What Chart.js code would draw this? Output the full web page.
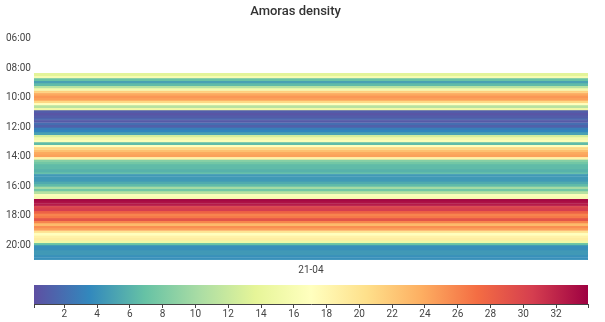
<!DOCTYPE html>
<html>
<head>
<meta charset="utf-8">
<script src="https://cdn.jsdelivr.net/npm/chart.js@4/dist/chart.umd.min.js"></script>
<style>
  body { margin: 0; background: #fff; }
  #wrap { position: relative; width: 605px; height: 322px; }
  #heat { position: absolute; left: 0; top: 0; }
  #bar { position: absolute; left: 0; top: 280px; }
</style>
</head>
<body>
<div id="wrap">
  <canvas id="heat" width="605" height="280"></canvas>
  <canvas id="bar" width="605" height="40"></canvas>
</div>
<script>
// one column (day), 10 minute slots from 08:20 to 21:00
const days = ["21-04"];
const firstSlot = 8 + 20 / 60;   // hours
const slotLen = 10 / 60;         // hours
const density = [
  13.5, 16, 7, 5, 6.5, 11, 15.5, 21.5, 24, 25, 24.5, 21, 17, 11, 15,
  1, 0.5, 1, 1.5, 0.8, 2, 1.2,
  3, 3.5, 5, 12.5, 15.5, 16.5, 6.5, 17, 21, 22.5, 24, 24.5, 18.5, 8.5, 7.5, 6.5, 6.5, 6, 6.5,
  4.5, 4.5, 4.5, 5.5, 6.5, 10, 7.5, 11, 16.5, 16,
  33.5, 33, 32.5, 30, 30.5, 28, 26, 26.5, 29, 26, 23, 25.5, 24.5, 20, 17, 18.5, 19, 15, 7,
  4, 4, 4.5, 4.5, 4, 4
];
const hourTicks = [6, 8, 10, 12, 14, 16, 18, 20];
const barTicks = [2, 4, 6, 8, 10, 12, 14, 16, 18, 20, 22, 24, 26, 28, 30, 32];

// colour scale domain
const cMin = 0.15, cMax = 33.95;
const spectral = ["#5e4fa2", "#3288bd", "#66c2a5", "#abdda4", "#e6f598", "#ffffbf",
                  "#fee08b", "#fdae61", "#f46d43", "#d53e4f", "#9e0142"];

function hexToRgb(h) {
  return [parseInt(h.slice(1, 3), 16), parseInt(h.slice(3, 5), 16), parseInt(h.slice(5, 7), 16)];
}
function colorFor(v) {
  let t = (v - cMin) / (cMax - cMin);
  t = Math.max(0, Math.min(1, t));
  const p = t * (spectral.length - 1);
  const i = Math.min(Math.floor(p), spectral.length - 2);
  const f = p - i;
  const a = hexToRgb(spectral[i]), b = hexToRgb(spectral[i + 1]);
  const c = a.map((x, k) => Math.round(x + (b[k] - x) * f));
  return `rgb(${c[0]},${c[1]},${c[2]})`;
}

const pad2 = n => String(n).padStart(2, "0");
const font = { family: "Roboto, 'Liberation Sans', sans-serif", size: 10 };

// one floating bar per slot
const datasets = density.map((v, i) => {
  const start = firstSlot + i * slotLen;
  return {
    data: [[start, start + slotLen]],
    backgroundColor: colorFor(v),
    borderColor: colorFor(v),
    borderWidth: 0.5,
    borderSkipped: false
  };
});

new Chart(document.getElementById("heat"), {
  type: "bar",
  data: { labels: days, datasets: datasets },
  options: {
    responsive: false,
    animation: false,
    devicePixelRatio: 1,
    layout: { padding: { left: 3, right: 17, top: 0, bottom: 0 } },
    datasets: { bar: { grouped: false, barPercentage: 1, categoryPercentage: 1 } },
    plugins: {
      legend: { display: false },
      tooltip: { enabled: false },
      title: {
        display: true,
        text: "Amoras density",
        color: "#333",
        font: { family: "Roboto, 'Liberation Sans', sans-serif", size: 13, weight: "500" },
        padding: { top: 4, bottom: 12 }
      }
    },
    scales: {
      x: {
        grid: { display: false, drawTicks: false },
        border: { display: false },
        ticks: { color: "#444", font: font, padding: 4 }
      },
      y: {
        type: "linear",
        reverse: true,
        min: 5.5,
        max: 21,
        grid: { display: false, drawTicks: false },
        border: { display: false },
        afterBuildTicks: s => { s.ticks = hourTicks.map(h => ({ value: h })); },
        ticks: {
          color: "#444",
          font: font,
          padding: 3,
          callback: v => pad2(v) + ":00"
        }
      }
    }
  }
});

// colour bar under the heatmap
const colorbarFill = {
  id: "colorbarFill",
  beforeDraw(chart) {
    const { ctx, chartArea: a, scales: { x } } = chart;
    const g = ctx.createLinearGradient(x.getPixelForValue(cMin), 0, x.getPixelForValue(cMax), 0);
    spectral.forEach((c, i) => g.addColorStop(i / (spectral.length - 1), c));
    ctx.save();
    ctx.fillStyle = g;
    ctx.fillRect(a.left, a.top, a.width, a.height);
    ctx.restore();
  }
};

new Chart(document.getElementById("bar"), {
  type: "scatter",
  data: { datasets: [{ data: [] }] },
  plugins: [colorbarFill],
  options: {
    responsive: false,
    animation: false,
    devicePixelRatio: 1,
    layout: { padding: { left: 34, right: 17, top: 5, bottom: 0 } },
    plugins: { legend: { display: false }, tooltip: { enabled: false } },
    scales: {
      x: {
        type: "linear",
        min: cMin,
        max: cMax,
        grid: { display: true, drawOnChartArea: false, drawTicks: true, tickLength: 4, color: "#444" },
        border: { display: true, color: "#444" },
        afterBuildTicks: s => {
          s.ticks = [cMin].concat(barTicks, [cMax]).map(v => ({ value: v }));
        },
        ticks: {
          color: "#444",
          font: font,
          padding: 0,
          maxRotation: 0,
          autoSkip: false,
          callback: v => Number.isInteger(v) ? v : ""
        }
      },
      y: { display: false, min: 0, max: 1 }
    }
  }
});
</script>
</body>
</html>
